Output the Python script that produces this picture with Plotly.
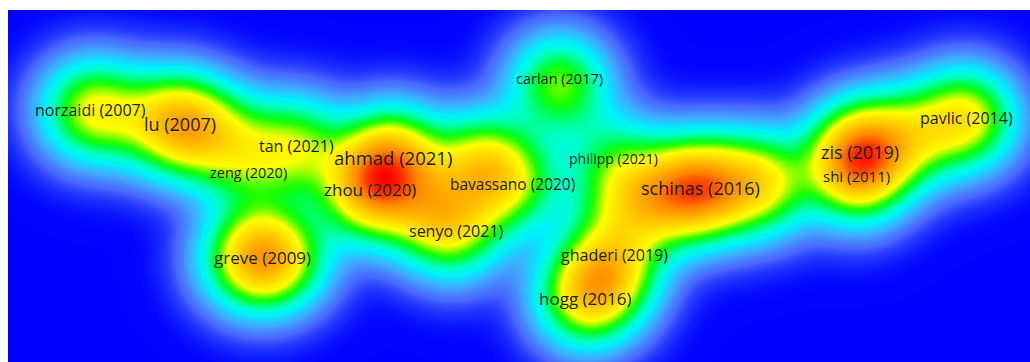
import numpy as np
import plotly.graph_objects as go

# Documents on the map: label, map coordinates and weight.
# Entries with an empty label are documents whose labels are hidden on the map.
labels = ["norzaidi (2007)", "lu (2007)", "tan (2021)", "zeng (2020)", "ahmad (2021)",
          "zhou (2020)", "greve (2009)", "carlan (2017)", "bavassano (2020)", "senyo (2021)",
          "philipp (2021)", "schinas (2016)", "ghaderi (2019)", "hogg (2016)", "zis (2019)",
          "shi (2011)", "pavlic (2014)",
          "", "", "", "", "", "", "", "", "", "", ""]
pos_x = [90, 180, 296, 248, 393, 370, 262, 559, 512, 456, 613, 700, 614, 585, 860, 856, 966,
         135, 225, 240, 288, 432, 480, 618, 655, 760, 605, 910]
pos_y = [110, 124, 146, 170, 157, 189, 257, 84, 184, 231, 158, 188, 255, 298, 152, 176, 118,
         117, 138, 260, 258, 212, 163, 200, 198, 183, 278, 135]
weights = [0.40, 0.55, 0.35, 0.16, 0.50, 0.56, 0.50, 0.36, 0.30, 0.28, 0.20, 0.65, 0.25, 0.40,
           0.60, 0.30, 0.45,
           0.13, 0.25, 0.14, 0.16, 0.30, 0.38, 0.15, 0.35, 0.45, 0.25, 0.30]

# Font size of each visible label (px)
font_px = [16, 18, 16, 14.5, 18.5, 17, 17, 14.5, 15.5, 16, 14, 18, 16, 17, 18, 15, 16]
label_x = [90, 180, 296, 248, 393, 370, 262, 559, 512, 456, 613, 700, 614, 585, 860, 856, 966]
label_y = [110, 124, 146, 172, 157, 189, 257, 78, 184, 231, 158, 188, 255, 298, 152, 176, 118]

px = np.array(pos_x, float)
py = np.array(pos_y, float)
w = np.array(weights, float)

# Gaussian kernel density over the map area
kernel_s = 2200.0  # 2 * sigma^2
gx = np.arange(8, 1032, 2, dtype=float)
gy = np.arange(10, 364, 2, dtype=float)
X, Y = np.meshgrid(gx, gy)
dens = np.zeros_like(X)
for xi, yi, wi in zip(px, py, w):
    dens += wi * np.exp(-((X - xi) ** 2 + (Y - yi) ** 2) / kernel_s)
dens = np.round(dens / dens.max(), 4)

# Density colour scheme: blue -> pale blue -> cyan -> green -> yellow -> orange -> red
colorscale = [
    [0.0, "#0000ff"],
    [0.01, "#1424ff"],
    [0.04, "#4a68ff"],
    [0.09, "#40aaff"],
    [0.16, "#00f0ff"],
    [0.22, "#00ffc8"],
    [0.31, "#00ff30"],
    [0.35, "#20ff00"],
    [0.46, "#ffff00"],
    [0.60, "#ffd000"],
    [0.80, "#ff8800"],
    [1.0, "#ff0000"],
]

fig = go.Figure()
fig.add_trace(go.Heatmap(
    x=gx, y=gy, z=dens, colorscale=colorscale, zmin=0, zmax=1,
    zsmooth="best", showscale=False, hoverinfo="skip",
))

for lab, x, y, fs in zip(labels, label_x, label_y, font_px):
    fig.add_annotation(
        x=x, y=y, text=lab, showarrow=False, xanchor="center", yanchor="middle",
        font=dict(family="Open Sans", size=fs, color="#1e1e1e"),
    )

fig.update_layout(
    width=1030, height=362,
    margin=dict(l=8, r=0, t=10, b=0),
    paper_bgcolor="white", plot_bgcolor="#0000ff",
    showlegend=False,
    xaxis=dict(range=[8, 1030], visible=False, fixedrange=True),
    yaxis=dict(range=[362, 10], visible=False, fixedrange=True),
)
fig.write_html("out.html")
